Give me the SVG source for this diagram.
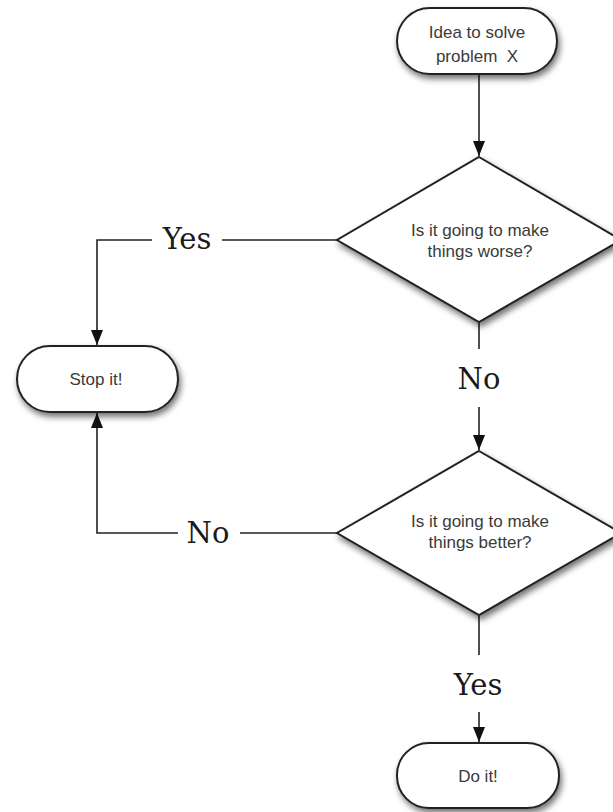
<svg xmlns="http://www.w3.org/2000/svg" width="613" height="812" viewBox="0 0 613 812">
<defs>
<filter id="sh" x="-20%" y="-20%" width="150%" height="160%">
<feDropShadow dx="2" dy="4" stdDeviation="3" flood-color="#000" flood-opacity="0.55"/>
</filter>
<marker id="arr" markerUnits="userSpaceOnUse" markerWidth="12" markerHeight="16" viewBox="0 0 12 16" refX="6" refY="15" orient="auto-start-reverse">
<path d="M0,0 L12,0 L6,15 Z" fill="#111" transform="rotate(0)"/>
</marker>
<marker id="arrv" markerUnits="userSpaceOnUse" markerWidth="16" markerHeight="12" viewBox="0 0 16 12" refX="15" refY="6" orient="auto">
<path d="M0,0 L15,6 L0,12 Z" fill="#111"/>
</marker>
</defs>
<style>
.node{fill:#fff;stroke:#222;stroke-width:2;filter:url(#sh)}
.nt{font-family:"Liberation Sans",Arial,sans-serif;font-size:17px;fill:#3a3a3a;text-anchor:middle;white-space:pre}
.lbl{font-family:"DejaVu Serif",serif;font-size:29px;fill:#1a1a1a;text-anchor:middle}
.con{fill:none;stroke:#222;stroke-width:1.6}
</style>
<rect width="613" height="812" fill="#fff"/>
<g id="connectors">
<path class="con" d="M479,74 V156" marker-end="url(#arrv)"/>
<path class="con" d="M337,240 H222"/>
<path class="con" d="M152,240 H97 V345" marker-end="url(#arrv)"/>
<path class="con" d="M479,322 V349"/>
<path class="con" d="M479,407 V450" marker-end="url(#arrv)"/>
<path class="con" d="M337,533 H240"/>
<path class="con" d="M178,533 H97 V413" marker-end="url(#arrv)"/>
<path class="con" d="M479,615 V655"/>
<path class="con" d="M479,712 V742" marker-end="url(#arrv)"/>
<text class="lbl" x="187" y="249">Yes</text>
<text class="lbl" x="479" y="389">No</text>
<text class="lbl" x="208" y="543">No</text>
<text class="lbl" x="478" y="695">Yes</text>
</g>
<g id="start">
<rect class="node" x="397" y="8" width="160" height="66" rx="33"/>
<text class="nt" x="477" y="38">Idea to solve</text>
<text class="nt" x="477" y="62">problem  X</text>
</g>
<g id="worse">
<polygon class="node" points="479,157 621,240 479,322 337,240"/>
<text class="nt" x="480" y="236">Is it going to make</text>
<text class="nt" x="480" y="257">things worse?</text>
</g>
<g id="stop">
<rect class="node" x="17" y="346" width="161" height="66" rx="33"/>
<text class="nt" x="96" y="385">Stop it!</text>
</g>
<g id="better">
<polygon class="node" points="479,451 621,533 479,615 337,533"/>
<text class="nt" x="480" y="527">Is it going to make</text>
<text class="nt" x="480" y="548">things better?</text>
</g>
<g id="doit">
<rect class="node" x="397" y="743" width="162" height="65" rx="32"/>
<text class="nt" x="478" y="782">Do it!</text>
</g>
</svg>
